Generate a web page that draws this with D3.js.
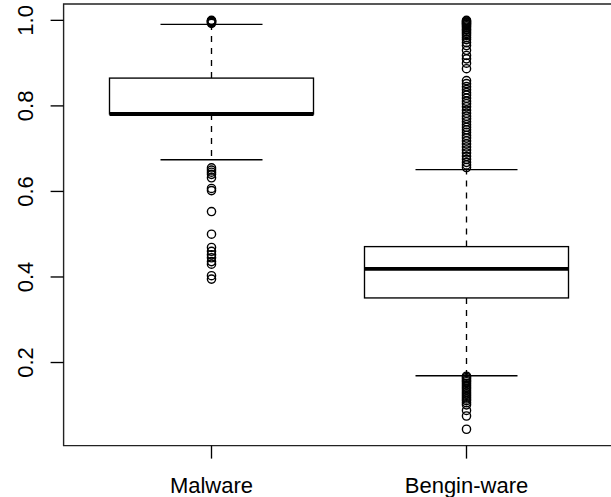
<!DOCTYPE html>
<html>
<head>
<meta charset="utf-8">
<script src="https://cdn.jsdelivr.net/npm/d3@7"></script>
<style>
html,body{margin:0;padding:0;background:#fff;}
svg{display:block;}
text{font-family:"Liberation Sans",Arial,Helvetica,sans-serif;}
</style>
</head>
<body>
<svg id="chart" width="611" height="497"></svg>
<script>
// ---- data ----
const categories = ["Malware", "Bengin-ware"];
const whiskerLow  = [0.674, 0.169];
const q1          = [0.781, 0.351];
const median      = [0.781, 0.419];
const q3          = [0.865, 0.471];
const whiskerHigh = [0.9906, 0.651];
const outliersMalware = [1.0, 0.999, 0.998, 0.997, 0.995, 0.993,
  0.655, 0.650, 0.645, 0.640, 0.632, 0.607, 0.602, 0.553, 0.500,
  0.469, 0.460, 0.452, 0.445, 0.436, 0.430, 0.403, 0.395];
const outliersBengin = [1.0, 0.998, 0.996, 0.994, 0.992, 0.99, 0.987, 0.984, 0.98, 0.977,
  0.973, 0.969, 0.965, 0.96, 0.955, 0.948, 0.941, 0.930, 0.918, 0.910, 0.900, 0.887,
  0.859, 0.852, 0.845, 0.838, 0.831, 0.825, 0.818, 0.811, 0.805, 0.798, 0.790,
  0.783, 0.776, 0.770, 0.763, 0.756, 0.750, 0.744, 0.738, 0.731, 0.725, 0.718,
  0.711, 0.704, 0.697, 0.690, 0.682, 0.675, 0.668, 0.662, 0.656,
  0.168, 0.165, 0.162, 0.158, 0.155, 0.151, 0.147, 0.143, 0.139, 0.135, 0.131,
  0.127, 0.123, 0.119, 0.115, 0.111, 0.106, 0.101, 0.088, 0.075, 0.044];
const outliers = [outliersMalware, outliersBengin];
const yTicks = [0.2, 0.4, 0.6, 0.8, 1.0];

// ---- layout ----
const svg = d3.select("#chart");
const plot = {left: 63.6, right: 614.4, top: 4, bottom: 445.6};

const allVals = outliers.flat().concat(whiskerLow, whiskerHigh);
const [mn, mx] = d3.extent(allVals);
const pad = (mx - mn) * 0.04;
const y = d3.scaleLinear().domain([mn - pad, mx + pad]).range([plot.bottom, plot.top]);
const x = d3.scaleLinear().domain([0.42, 2.58]).range([plot.left, plot.right]);

const boxHalf = 0.4, capHalf = 0.2;
const lw = 1.35;

// boxes
categories.forEach((c, i) => {
  const cx = x(i + 1);
  const g = svg.append("g");
  // whiskers (dashed)
  g.append("line").attr("x1", cx).attr("x2", cx)
    .attr("y1", y(q3[i])).attr("y2", y(whiskerHigh[i]))
    .attr("stroke", "#000").attr("stroke-width", lw).attr("stroke-dasharray", "6,6");
  g.append("line").attr("x1", cx).attr("x2", cx)
    .attr("y1", y(q1[i])).attr("y2", y(whiskerLow[i]))
    .attr("stroke", "#000").attr("stroke-width", lw).attr("stroke-dasharray", "6,6");
  // caps
  [whiskerHigh[i], whiskerLow[i]].forEach(v => {
    g.append("line").attr("x1", x(i + 1 - capHalf)).attr("x2", x(i + 1 + capHalf))
      .attr("y1", y(v)).attr("y2", y(v)).attr("stroke", "#000").attr("stroke-width", lw);
  });
  // box
  g.append("rect").attr("x", x(i + 1 - boxHalf)).attr("y", y(q3[i]))
    .attr("width", x(i + 1 + boxHalf) - x(i + 1 - boxHalf))
    .attr("height", y(q1[i]) - y(q3[i]))
    .attr("fill", "#fff").attr("stroke", "#000").attr("stroke-width", lw);
  // median
  g.append("line").attr("x1", x(i + 1 - boxHalf)).attr("x2", x(i + 1 + boxHalf))
    .attr("y1", y(median[i])).attr("y2", y(median[i]))
    .attr("stroke", "#000").attr("stroke-width", 3.8);
  // outliers
  g.selectAll("circle").data(outliers[i]).enter().append("circle")
    .attr("cx", cx).attr("cy", d => y(d)).attr("r", 4.1)
    .attr("fill", "none").attr("stroke", "#000").attr("stroke-width", 1.4);
});

// frame (right side is beyond the window)
svg.append("path")
  .attr("d", `M${plot.right},${plot.top}H${plot.left}V${plot.bottom}H${plot.right}`)
  .attr("fill", "none").attr("stroke", "#222").attr("stroke-width", 1.4);

// y axis
const yAxis = svg.append("g");
yTicks.forEach(t => {
  yAxis.append("line").attr("x1", plot.left).attr("x2", plot.left - 13)
    .attr("y1", y(t)).attr("y2", y(t)).attr("stroke", "#000").attr("stroke-width", lw);
  yAxis.append("text")
    .attr("transform", `translate(33,${y(t)}) rotate(-90)`)
    .attr("text-anchor", "middle").attr("font-size", 22).attr("fill", "#000")
    .text(d3.format(".1f")(t));
});

// x axis
const xAxis = svg.append("g");
categories.forEach((c, i) => {
  xAxis.append("line").attr("x1", x(i + 1)).attr("x2", x(i + 1))
    .attr("y1", plot.bottom).attr("y2", plot.bottom + 13)
    .attr("stroke", "#000").attr("stroke-width", lw);
  xAxis.append("text").attr("x", x(i + 1)).attr("y", 493)
    .attr("text-anchor", "middle").attr("font-size", 22).attr("fill", "#000")
    .text(c);
});
</script>
</body>
</html>
